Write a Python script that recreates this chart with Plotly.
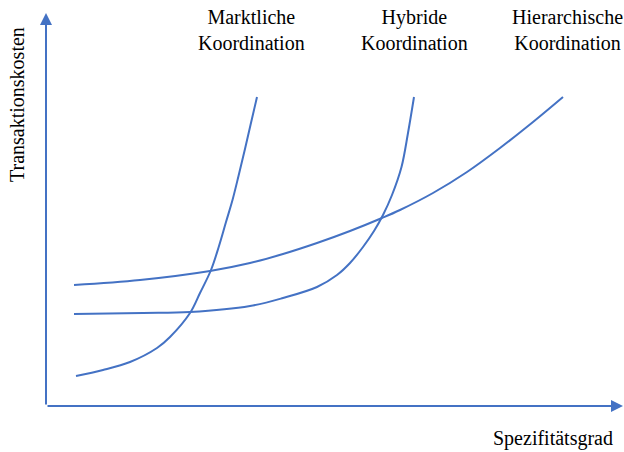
import plotly.graph_objects as go

# Data units: origin at the axis corner (Spezifitätsgrad, Transaktionskosten)
markt_x = [30, 57, 84, 111, 124, 144, 154, 165, 173, 180, 186.5, 192.5, 198.5, 204.5, 211]
markt_y = [30, 36, 44, 58, 69, 93, 113, 136, 160, 184, 206, 230, 255, 281, 309]

hybrid_x = [28, 97, 144, 204, 237, 271, 291, 304, 317, 328, 337, 346, 355.5, 362, 368]
hybrid_y = [92, 93, 94, 100, 108, 119, 131, 143, 159, 175, 191, 211, 239, 273, 309]

hier_x = [28, 94, 164, 204, 237, 271, 304, 336, 354, 387, 421, 454, 487, 517]
hier_y = [121, 126, 135, 143, 152, 163, 175, 188, 196, 213, 234, 258, 284, 309]

labels = ["Marktliche<br>Koordination", "Hybride<br>Koordination", "Hierarchische<br>Koordination"]
label_x = [205, 368, 521]

BLUE = "#4472C4"
FONT = "Liberation Serif, Times New Roman, serif"

fig = go.Figure()
for xs, ys in [(markt_x, markt_y), (hybrid_x, hybrid_y), (hier_x, hier_y)]:
    fig.add_trace(go.Scatter(x=xs, y=ys, mode="lines",
                             line=dict(color=BLUE, width=2, shape="spline", smoothing=1.0),
                             hoverinfo="skip", showlegend=False))

ann = []
# axis arrows
ann.append(dict(x=577, y=0, ax=0, ay=0, xref="x", yref="y", axref="x", ayref="y",
                text="", showarrow=True, arrowhead=2, arrowsize=1.2, arrowwidth=2,
                arrowcolor=BLUE))
ann.append(dict(x=0, y=393, ax=0, ay=0, xref="x", yref="y", axref="x", ayref="y",
                text="", showarrow=True, arrowhead=2, arrowsize=1.2, arrowwidth=2,
                arrowcolor=BLUE))
for t, lx in zip(labels, label_x):
    ann.append(dict(x=lx, y=376, xref="x", yref="y", text=t, showarrow=False,
                    font=dict(family=FONT, size=20, color="black"),
                    xanchor="center", yanchor="middle", align="center"))
ann.append(dict(x=507, y=-32, xref="x", yref="y", text="Spezifitätsgrad", showarrow=False,
                font=dict(family=FONT, size=20, color="black"),
                xanchor="center", yanchor="middle"))
ann.append(dict(x=-29, y=301, xref="x", yref="y", text="Transaktionskosten", showarrow=False,
                font=dict(family=FONT, size=20, color="black"), textangle=-90,
                xanchor="center", yanchor="middle"))

fig.update_layout(
    width=624, height=452,
    margin=dict(l=0, r=0, t=0, b=0),
    paper_bgcolor="white", plot_bgcolor="white",
    xaxis=dict(range=[-46, 578], visible=False, fixedrange=True),
    yaxis=dict(range=[-46, 406], visible=False, fixedrange=True),
    annotations=ann,
)

fig.write_html("out.html", config={"displayModeBar": False, "staticPlot": True},
               post_script="document.body.style.margin='0';document.body.style.overflow='hidden';")
